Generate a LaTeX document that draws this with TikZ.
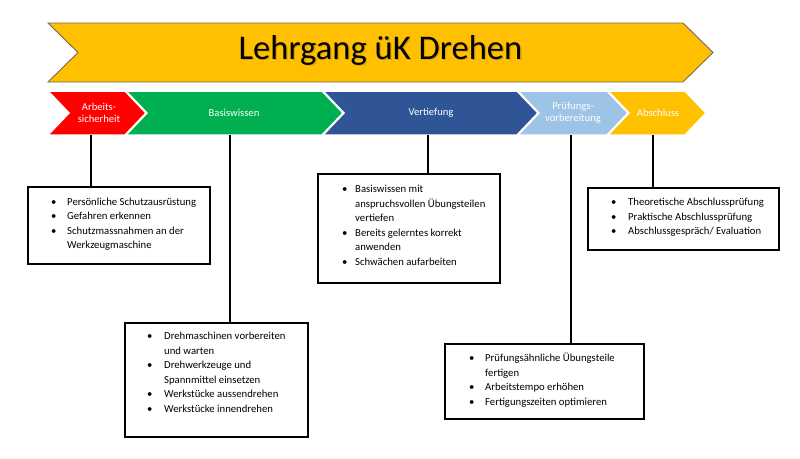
\documentclass[tikz,border=0pt]{standalone}
\usepackage{fontspec}
\setmainfont{Carlito}
\definecolor{cred}{HTML}{FF0000}
\definecolor{cgreen}{HTML}{00B050}
\definecolor{cblue}{HTML}{2F5597}
\definecolor{clblue}{HTML}{9DC3E6}
\definecolor{cgold}{HTML}{FFC000}
\definecolor{cedge}{HTML}{6E6A60}
\newcommand\chevron[3]{%
  \fill[#3, draw=white, line width=1.5pt, line join=miter]
    (#1,91) -- (#2,91) -- (#2+21,113) -- (#2,135) -- (#1,135) -- (#1+21,113) -- cycle;}
\newcommand\itm{\textbullet}
\begin{document}
\begin{tikzpicture}[x=1pt,y=-1pt,
  lab/.style={text=white, font=\fontsize{10.6}{12}\selectfont, align=center, inner sep=0pt},
  box/.style={draw=black, line width=1.6pt, anchor=north west, inner sep=0pt, fill=white},
  boxtext/.style={anchor=base west, inner sep=0pt, font=\fontsize{10.7}{14.5}\selectfont},
  link/.style={draw=black, line width=1.6pt}]
\useasboundingbox (0,0) rectangle (800,458);
% banner
\filldraw[fill=cgold, draw=cedge, line width=0.9pt]
  (48,23) -- (683,23) -- (713,52.5) -- (683,82) -- (48,82) -- (78,52.5) -- cycle;
\node[anchor=base, inner sep=0pt, font=\fontsize{34.6}{40}\selectfont, text=black, opacity=0.15] at (381.8,60.3) {Lehrgang üK Drehen};
\node[anchor=base, inner sep=0pt, font=\fontsize{34.6}{40}\selectfont, text=black] (title) at (380.5,59) {Lehrgang üK Drehen};
% chevrons
\chevron{48}{125}{cred}
\chevron{126}{322}{cgreen}
\chevron{323}{517}{cblue}
\chevron{518}{607}{clblue}
\chevron{608}{685}{cgold}
\node[lab] (l1) at (99,113) {Arbeits-\\sicherheit};
\node[lab] (l2) at (234,113) {Basiswissen};
\node[lab] (l3) at (431,113) {Vertiefung};
\node[lab] (l4) at (573,113) {Prüfungs-\\vorbereitung};
\node[lab] (l5) at (658,113) {Abschluss};
% connector start points
\coordinate (c1) at (91,135);
\coordinate (c2) at (230,135);
\coordinate (c3) at (428,135);
\coordinate (c4) at (571,135);
\coordinate (c5) at (653,135);
% boxes
\node[box, minimum width=182pt, minimum height=77pt] (b1) at (27,186) {};
\node[box, minimum width=183pt, minimum height=114pt] (b2) at (124,322) {};
\node[box, minimum width=182pt, minimum height=109pt] (b3) at (317,173) {};
\node[box, minimum width=191pt, minimum height=62pt] (b4) at (587,187) {};
\node[box, minimum width=199pt, minimum height=75pt] (b5) at (444,343) {};
% connectors
\draw[link] (c1) -- (c1 |- b1.north);
\draw[link] (c2) -- (c2 |- b2.north);
\draw[link] (c3) -- (c3 |- b3.north);
\draw[link] (c4) -- (c4 |- b5.north);
\draw[link] (c5) -- (c5 |- b4.north);
% texts
\node[boxtext] (t1) at ([shift={(24,19)}]b1.north west) {\begin{tabular}[t]{@{}p{16pt}@{}l@{}}
\itm & Persönliche Schutzausrüstung\\
\itm & Gefahren erkennen\\
\itm & Schutzmassnahmen an der\\
     & Werkzeugmaschine
\end{tabular}};
\node[boxtext] (t2) at ([shift={(23,17.5)}]b2.north west) {\begin{tabular}[t]{@{}p{17pt}@{}l@{}}
\itm & Drehmaschinen vorbereiten\\
     & und warten\\
\itm & Drehwerkzeuge und\\
     & Spannmittel einsetzen\\
\itm & Werkstücke aussendrehen\\
\itm & Werkstücke innendrehen
\end{tabular}};
\node[boxtext] (t3) at ([shift={(25,19.5)}]b3.north west) {\begin{tabular}[t]{@{}p{13pt}@{}l@{}}
\itm & Basiswissen mit\\
     & anspruchsvollen Übungsteilen\\
     & vertiefen\\
\itm & Bereits gelerntes korrekt\\
     & anwenden\\
\itm & Schwächen aufarbeiten
\end{tabular}};
\node[boxtext] (t4) at ([shift={(24,18.5)}]b4.north west) {\begin{tabular}[t]{@{}p{17pt}@{}l@{}}
\itm & Theoretische Abschlussprüfung\\
\itm & Praktische Abschlussprüfung\\
\itm & Abschlussgespräch/ Evaluation
\end{tabular}};
\node[boxtext] (t5) at ([shift={(25,18.5)}]b5.north west) {\begin{tabular}[t]{@{}p{16pt}@{}l@{}}
\itm & Prüfungsähnliche Übungsteile\\
     & fertigen\\
\itm & Arbeitstempo erhöhen\\
\itm & Fertigungszeiten optimieren
\end{tabular}};
\end{tikzpicture}
\end{document}
